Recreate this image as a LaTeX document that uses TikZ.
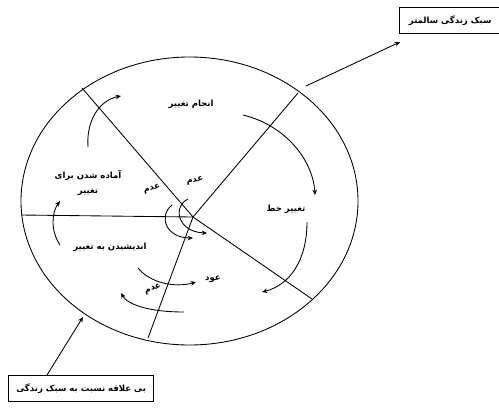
\documentclass[tikz,border=0pt]{standalone}
\usepackage{fontspec}
\newfontfamily\farsi[Script=Arabic]{DejaVu Sans}
\TeXXeTstate=1
\usetikzlibrary{arrows.meta}

\begin{document}
\begin{tikzpicture}[x=0.75pt, y=-0.75pt,
  line width=0.65pt,
  lbl/.style={font=\farsi\bfseries\fontsize{6.4}{8}\selectfont, inner sep=1pt},
  stagebox/.style={draw, line width=0.8pt, font=\farsi\bfseries\fontsize{6.4}{8}\selectfont, minimum height=19.5pt, inner sep=2pt},
  flow/.style={-{Stealth[length=4pt, width=3.5pt]}}]
\useasboundingbox (0,0) rectangle (499,411);

% wheel
\coordinate (O) at (193,217); % centre
\draw (189.5,201) ellipse [x radius=168.5, y radius=144];

% spokes
\coordinate (L)  at (21,215);  % left
\coordinate (UL) at (82,88);   % upper left
\coordinate (UR) at (298,93);  % upper right
\coordinate (LR) at (312,299); % lower right
\coordinate (BT) at (148,338); % bottom
\foreach \p in {L, UL, UR, LR, BT}
  \draw (O) -- (\p);

% stage labels
\node[lbl] (doing)   at (191,104) {\beginR انجام تغییر\endR};
\node[lbl, align=center] (prep) at (88,183) {\beginR آماده شدن برای\endR\\[3pt]\beginR تغییر\endR};
\node[lbl] (think)   at (110,247) {\beginR اندیشیدن به تغییر\endR};
\node[lbl] (shift)   at (286,209) {\beginR تغییر خط\endR};
\node[lbl] (relapse) at (213,279) {\beginR عود\endR};
\node[lbl, rotate=15] (no1) at (152,189) {\beginR عدم\endR};
\node[lbl, rotate=10] (no2) at (195,181) {\beginR عدم\endR};
\node[lbl, rotate=20] (no3) at (153,289) {\beginR عدم\endR};

% cycle arrows
\draw[flow] (88,147) .. controls (86,120) and (100,100) .. (121,96);
\draw[flow] (243,115) .. controls (285,125) and (313,160) .. (315,195);
\draw[flow] (307,222) .. controls (307,260) and (290,285) .. (262,292);
\draw[flow] (138,268) .. controls (150,283) and (175,288) .. (196,282);
\draw[flow] (184,312) .. controls (150,312) and (128,305) .. (121,293);
\draw[flow] (60,245) .. controls (50,230) and (52,212) .. (60,201);

% small arcs at the centre
\draw[flow] (172,205) .. controls (158,216) and (166,238) .. (193,238);
\draw[flow] (188,199) .. controls (172,207) and (178,232) .. (207,233);

% outer boxes
\node[stagebox, minimum width=90pt, anchor=north west] (healthy) at (399,7) {\hspace*{-14pt}\beginR سبک زندگی سالمتر\endR};
\node[stagebox, minimum width=109pt, anchor=north west] (indiff) at (8,375) {\beginR بی علاقه نسبت به سبک زندگی\endR};

\coordinate (h1) at (306,86);
\coordinate (h2) at (400,42);
\coordinate (i1) at (47,375);
\coordinate (i2) at (83,317);
\draw[flow] (h1) -- (h2);
\draw[flow] (i1) -- (i2);
\end{tikzpicture}
\end{document}
